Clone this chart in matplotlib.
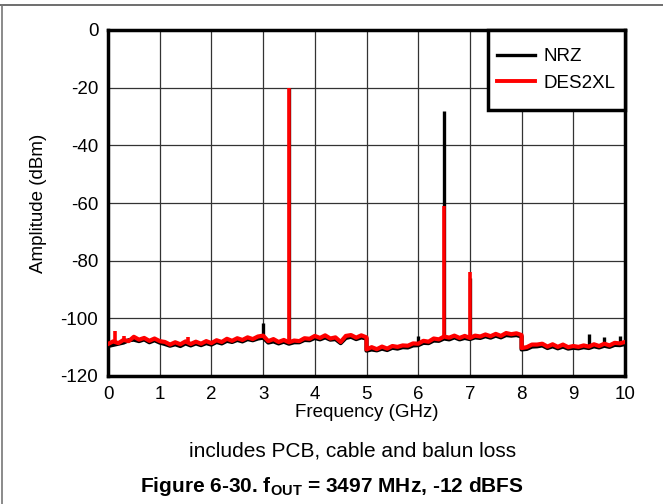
import numpy as np
import matplotlib
matplotlib.use("Agg")
import matplotlib.pyplot as plt
from matplotlib.lines import Line2D
from matplotlib.patches import Rectangle

plt.rcParams['font.family'] = ['Liberation Sans', 'DejaVu Sans']
plt.rcParams['mathtext.fontset'] = 'custom'
plt.rcParams['mathtext.bf'] = 'Liberation Sans:bold'
plt.rcParams['mathtext.rm'] = 'Liberation Sans'

# Frequency points of the noise floor (GHz); 5.0 and 8.0 repeated for the steps
freq = [i / 10 for i in range(0, 51)] + [i / 10 for i in range(50, 81)] + [i / 10 for i in range(80, 101)]

# DES2XL noise floor (dBm)
des2xl_floor = [
    -108.9, -108.0, -108.6, -107.5, -107.9, -106.4, -107.4, -106.8, -107.8, -107.0,
    -107.9, -108.2, -109.1, -108.3, -109.0, -108.0, -108.9, -108.1, -108.8, -107.9,
    -108.6, -107.6, -108.2, -107.1, -107.8, -106.9, -107.5, -106.6, -107.2, -106.3,
    -106.0, -107.9, -107.2, -108.2, -107.5, -108.3, -107.7, -107.9, -106.9, -107.1,
    -106.1, -106.8, -105.9, -107.0, -106.6, -108.2, -106.1, -105.8, -106.7, -105.9,
    -106.6,
    -110.8, -110.0, -110.7, -109.8, -110.5, -109.6, -109.9, -109.4, -109.5, -108.7,
    -108.8, -107.8, -108.1, -107.0, -107.3, -106.3, -106.7, -106.0, -106.8, -106.1,
    -106.8, -106.0, -106.3, -105.6, -106.2, -105.4, -106.1, -105.1, -105.5, -105.2,
    -105.8,
    -110.3, -110.0, -109.1, -109.1, -108.8, -109.8, -109.0, -109.9, -109.1, -110.0,
    -109.6, -109.9, -109.4, -109.8, -109.0, -109.6, -108.8, -109.4, -108.5, -108.7,
    -108.2,
]

# NRZ noise floor (dBm)
nrz_floor = [
    -109.6, -109.2, -108.8, -108.4, -107.6, -107.4, -107.9, -107.3, -108.3, -107.6,
    -108.4, -108.9, -109.5, -109.0, -109.6, -108.7, -109.4, -108.7, -109.3, -108.6,
    -109.1, -108.2, -108.7, -107.8, -108.2, -107.5, -108.0, -107.2, -107.6, -107.0,
    -106.7, -108.4, -108.0, -108.7, -108.1, -108.8, -108.3, -108.3, -107.5, -107.6,
    -106.8, -107.3, -106.6, -107.4, -107.2, -108.6, -106.8, -106.4, -107.2, -106.6,
    -107.0,
    -111.2, -110.8, -111.1, -110.5, -111.0, -110.2, -110.5, -110.0, -110.1, -109.4,
    -109.3, -108.5, -108.6, -107.7, -107.8, -107.0, -107.3, -106.6, -107.3, -106.8,
    -107.2, -106.6, -106.8, -106.2, -106.7, -106.0, -106.6, -105.8, -106.0, -105.8,
    -106.3,
    -110.8, -110.6, -109.8, -109.7, -109.4, -110.3, -109.7, -110.4, -109.8, -110.5,
    -110.2, -110.4, -110.0, -110.3, -109.7, -110.1, -109.5, -109.9, -109.2, -109.3,
    -108.9,
]

# Spurs / tones
nrz_spur_f = [3.0, 3.5, 6.0, 6.5, 7.0, 9.3, 9.6, 9.9]
nrz_spur_a = [-101.5, -20.0, -106.0, -28.0, -86.0, -105.5, -106.5, -106.3]
des2xl_spur_f = [0.135, 0.3, 1.55, 3.5, 6.5, 7.0]
des2xl_spur_a = [-104.3, -106.0, -106.5, -20.0, -61.0, -84.0]

x_ticks = [0, 1, 2, 3, 4, 5, 6, 7, 8, 9, 10]
y_ticks = [0, -20, -40, -60, -80, -100, -120]

fig = plt.figure(figsize=(6.63, 5.04), dpi=100)
ax = fig.add_axes([108 / 663, 1 - 376 / 504, (625 - 108) / 663, (376 - 30) / 504])

ax.set_xlim(0, 10)
ax.set_ylim(-120, 0)
ax.set_xticks(x_ticks)
ax.set_yticks(y_ticks)
ax.set_xticklabels([str(v) for v in x_ticks])
ax.set_yticklabels([str(v) for v in y_ticks])
ax.tick_params(length=0, labelsize=13.5, pad=7)
ax.grid(True, color='#333333', linewidth=0.9, zorder=0)
ax.set_axisbelow(True)
for s in ax.spines.values():
    s.set_linewidth(2.5)
    s.set_color('black')

# NRZ
ax.plot(freq, nrz_floor, color='black', linewidth=3.0, zorder=2)
nrz_base = np.interp(nrz_spur_f, freq, nrz_floor)
ax.vlines(nrz_spur_f, nrz_base, nrz_spur_a, color='black', linewidth=2.4, zorder=2)

# DES2XL
ax.plot(freq, des2xl_floor, color='#ff0000', linewidth=3.0, zorder=3)
des_base = np.interp(des2xl_spur_f, freq, des2xl_floor)
ax.vlines(des2xl_spur_f, des_base, des2xl_spur_a, color='#ff0000', linewidth=2.6, zorder=3)

ax.set_xlabel('Frequency (GHz)', fontsize=13.5, labelpad=1)
ax.set_ylabel('Amplitude (dBm)', fontsize=13.5, labelpad=10)

# legend box
lx0 = (488 - 108) / 517
ly0 = 1 - 80 / 346
box = Rectangle((lx0, ly0), 1 - lx0, 1 - ly0, transform=ax.transAxes,
                facecolor='white', edgecolor='black', linewidth=2.5, zorder=4,
                clip_on=False)
ax.add_patch(box)
handles = [Line2D([], [], color='black', linewidth=2.4),
           Line2D([], [], color='#ff0000', linewidth=2.8)]
leg = ax.legend(handles, ['NRZ', 'DES2XL'], loc='center',
                bbox_to_anchor=(lx0, ly0, 1 - lx0, 1 - ly0), fontsize=13.5,
                borderaxespad=0, frameon=False, borderpad=0.0,
                labelspacing=0.5, handlelength=2.0, handletextpad=0.5)
leg.set_zorder(5)

fig.text(353 / 663, 1 - 451 / 504, 'includes PCB, cable and balun loss',
         ha='center', va='center', fontsize=15)
fig.text(332 / 663, 1 - 487 / 504,
         r'Figure 6-30. f$_{\mathbf{OUT}}$ = 3497 MHz, -12 dBFS',
         ha='center', va='center', fontsize=15, fontweight='bold')

# figure frame lines (top and left)
fig.add_artist(Line2D([0, 1], [1 - 5 / 504, 1 - 5 / 504], transform=fig.transFigure,
                      color='#555555', linewidth=1.2))
fig.add_artist(Line2D([1.5 / 663, 1.5 / 663], [0, 1 - 5 / 504], transform=fig.transFigure,
                      color='#777777', linewidth=1.2))

fig.savefig('out.png', dpi=100)
